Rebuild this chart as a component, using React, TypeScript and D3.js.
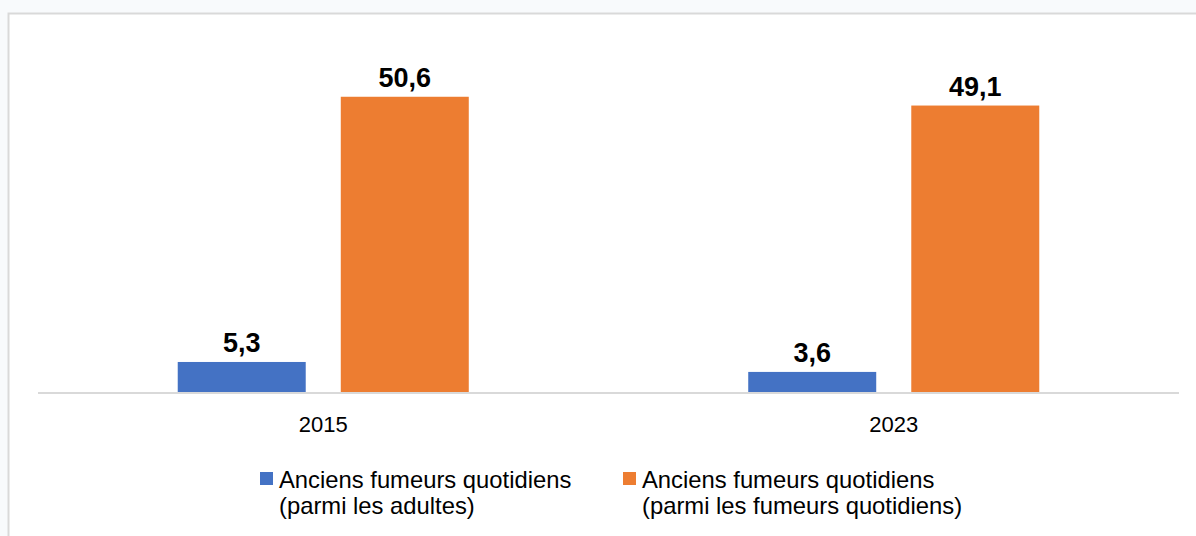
import React from "react";
import * as d3 from "d3";

const years = ["2015", "2023"];
const seriesKeys = ["adultes", "fumeurs"];
const seriesLabels = [
  ["Anciens fumeurs quotidiens", "(parmi les adultes)"],
  ["Anciens fumeurs quotidiens", "(parmi les fumeurs quotidiens)"],
];
const seriesColors = ["#4472C4", "#ED7D31"];
const adultesValues = [5.3, 3.6];
const fumeursValues = [50.6, 49.1];

const W = 1196;
const H = 536;

export default function App() {
  React.useEffect(() => {
    document.body.style.margin = "0";
  }, []);

  const x0 = d3.scaleBand<string>().domain(years).range([38, 1179]).padding(0);
  const x1 = d3
    .scaleBand<string>()
    .domain(seriesKeys)
    .range([0, x0.bandwidth()])
    .paddingInner(0.215)
    .paddingOuter(0.857);
  const y = d3.scaleLinear().domain([0, 55]).range([393, 71]);

  const valuesBySeries: Record<string, number[]> = {
    adultes: adultesValues,
    fumeurs: fumeursValues,
  };
  const fmt = (v: number) => d3.format(".1f")(v).replace(".", ",");

  const legendX = [260, 623];

  return (
    <svg width={W} height={H} style={{ display: "block" }}>
      <rect x={0} y={0} width={W} height={H} fill="#f8fafc" />
      <rect x={8.5} y={13.5} width={W + 20} height={H + 20} fill="#ffffff" stroke="#d9d9d9" strokeWidth={2} />
      {years.map((yr, i) => (
        <g key={yr} transform={`translate(${x0(yr)},0)`}>
          {seriesKeys.map((s, j) => {
            const v = valuesBySeries[s][i];
            const bx = x1(s)!;
            return (
              <g key={s}>
                <rect x={bx} y={y(v)} width={x1.bandwidth()} height={y(0) - y(v)} fill={seriesColors[j]} />
                <text
                  x={bx + x1.bandwidth() / 2}
                  y={y(v) - 10}
                  textAnchor="middle"
                  fontFamily="'Liberation Sans', Arial, sans-serif"
                  fontWeight="bold"
                  fontSize={27}
                  fill="#000"
                >
                  {fmt(v)}
                </text>
              </g>
            );
          })}
          <text
            x={x0.bandwidth() / 2}
            y={432}
            textAnchor="middle"
            fontFamily="'Liberation Sans', Arial, sans-serif"
            fontSize={22}
            fill="#000"
          >
            {yr}
          </text>
        </g>
      ))}
      <line x1={38} x2={1179} y1={393} y2={393} stroke="#d9d9d9" strokeWidth={2} />
      {seriesKeys.map((s, j) => (
        <g key={s}>
          <rect x={legendX[j]} y={472} width={13} height={13} fill={seriesColors[j]} />
          {seriesLabels[j].map((line, k) => (
            <text
              key={k}
              x={legendX[j] + 19}
              y={488 + k * 26}
              fontFamily="'Liberation Sans', Arial, sans-serif"
              fontSize={23.8}
              fill="#000"
            >
              {line}
            </text>
          ))}
        </g>
      ))}
    </svg>
  );
}
